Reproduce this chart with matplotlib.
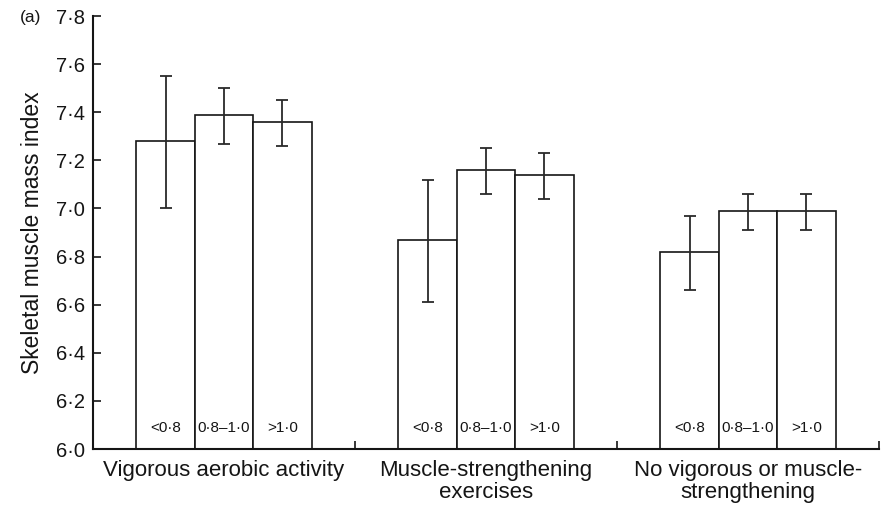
import matplotlib
matplotlib.use('Agg')
import matplotlib.pyplot as plt
import numpy as np
from matplotlib.ticker import FuncFormatter

plt.rcParams['font.family'] = ['Liberation Sans', 'DejaVu Sans']

# Skeletal muscle mass index by activity group and ratio category
groups = ['Vigorous aerobic activity',
          'Muscle-strengthening\nexercises',
          'No vigorous or muscle-\nstrengthening']
ratio_labels = ['<0\u00b78', '0\u00b78\u20131\u00b70', '>1\u00b70']
means = [[7.28, 7.39, 7.36],
         [6.87, 7.16, 7.14],
         [6.82, 6.99, 6.99]]
ci_low = [[7.00, 7.27, 7.26],
          [6.61, 7.06, 7.04],
          [6.66, 6.91, 6.91]]
ci_high = [[7.55, 7.50, 7.45],
           [7.12, 7.25, 7.23],
           [6.97, 7.06, 7.06]]

means = np.array(means)
ci_low = np.array(ci_low)
ci_high = np.array(ci_high)

ink = '#151515'
fig = plt.figure(figsize=(8.83, 5.08), dpi=100)
ax = fig.add_axes([0.1053, 0.1161, 0.8902, 0.8524])

width = 0.223
offsets = np.array([-1, 0, 1]) * width
base = 6.0
for g in range(len(groups)):
    xs = g + offsets
    ax.bar(xs, means[g] - base, bottom=base, width=width, color='white',
           edgecolor=ink, linewidth=1.2, zorder=2)
    yerr = [means[g] - ci_low[g], ci_high[g] - means[g]]
    ax.errorbar(xs, means[g], yerr=yerr, fmt='none', ecolor='#2a2a2a',
                elinewidth=1.3, capsize=4, capthick=1.3, zorder=3)
    for x, lab in zip(xs, ratio_labels):
        ax.text(x, 6.087, lab, ha='center', va='center', fontsize=11,
                color=ink, zorder=4)

ax.set_xlim(-0.5, 2.5)
ax.set_ylim(6.0, 7.8)
ax.set_yticks(np.arange(6.0, 7.81, 0.2))
ax.yaxis.set_major_formatter(
    FuncFormatter(lambda v, p: f'{v:.1f}'.replace('.', '\u00b7')))
ax.tick_params(axis='y', direction='in', length=6, width=1.2,
               labelsize=14.5, pad=6, colors=ink)

ax.set_xticks([0.5, 1.5, 2.5])
ax.set_xticklabels([])
ax.tick_params(axis='x', which='major', direction='in', length=6, width=1.2,
               colors=ink)
ax.set_xticks([0, 1, 2], minor=True)
ax.set_xticklabels(groups, minor=True, fontsize=16, color=ink,
                   linespacing=1.08)
ax.tick_params(axis='x', which='minor', length=0, pad=8)

for side in ['top', 'right']:
    ax.spines[side].set_visible(False)
for side in ['left', 'bottom']:
    ax.spines[side].set_linewidth(1.5)
    ax.spines[side].set_color(ink)

ax.set_ylabel('Skeletal muscle mass index', fontsize=16.5, color=ink,
              labelpad=8)
fig.text(0.022, 0.965, '(a)', fontsize=12.5, color=ink, ha='left',
         va='center')

fig.savefig('out.png', dpi=100)
